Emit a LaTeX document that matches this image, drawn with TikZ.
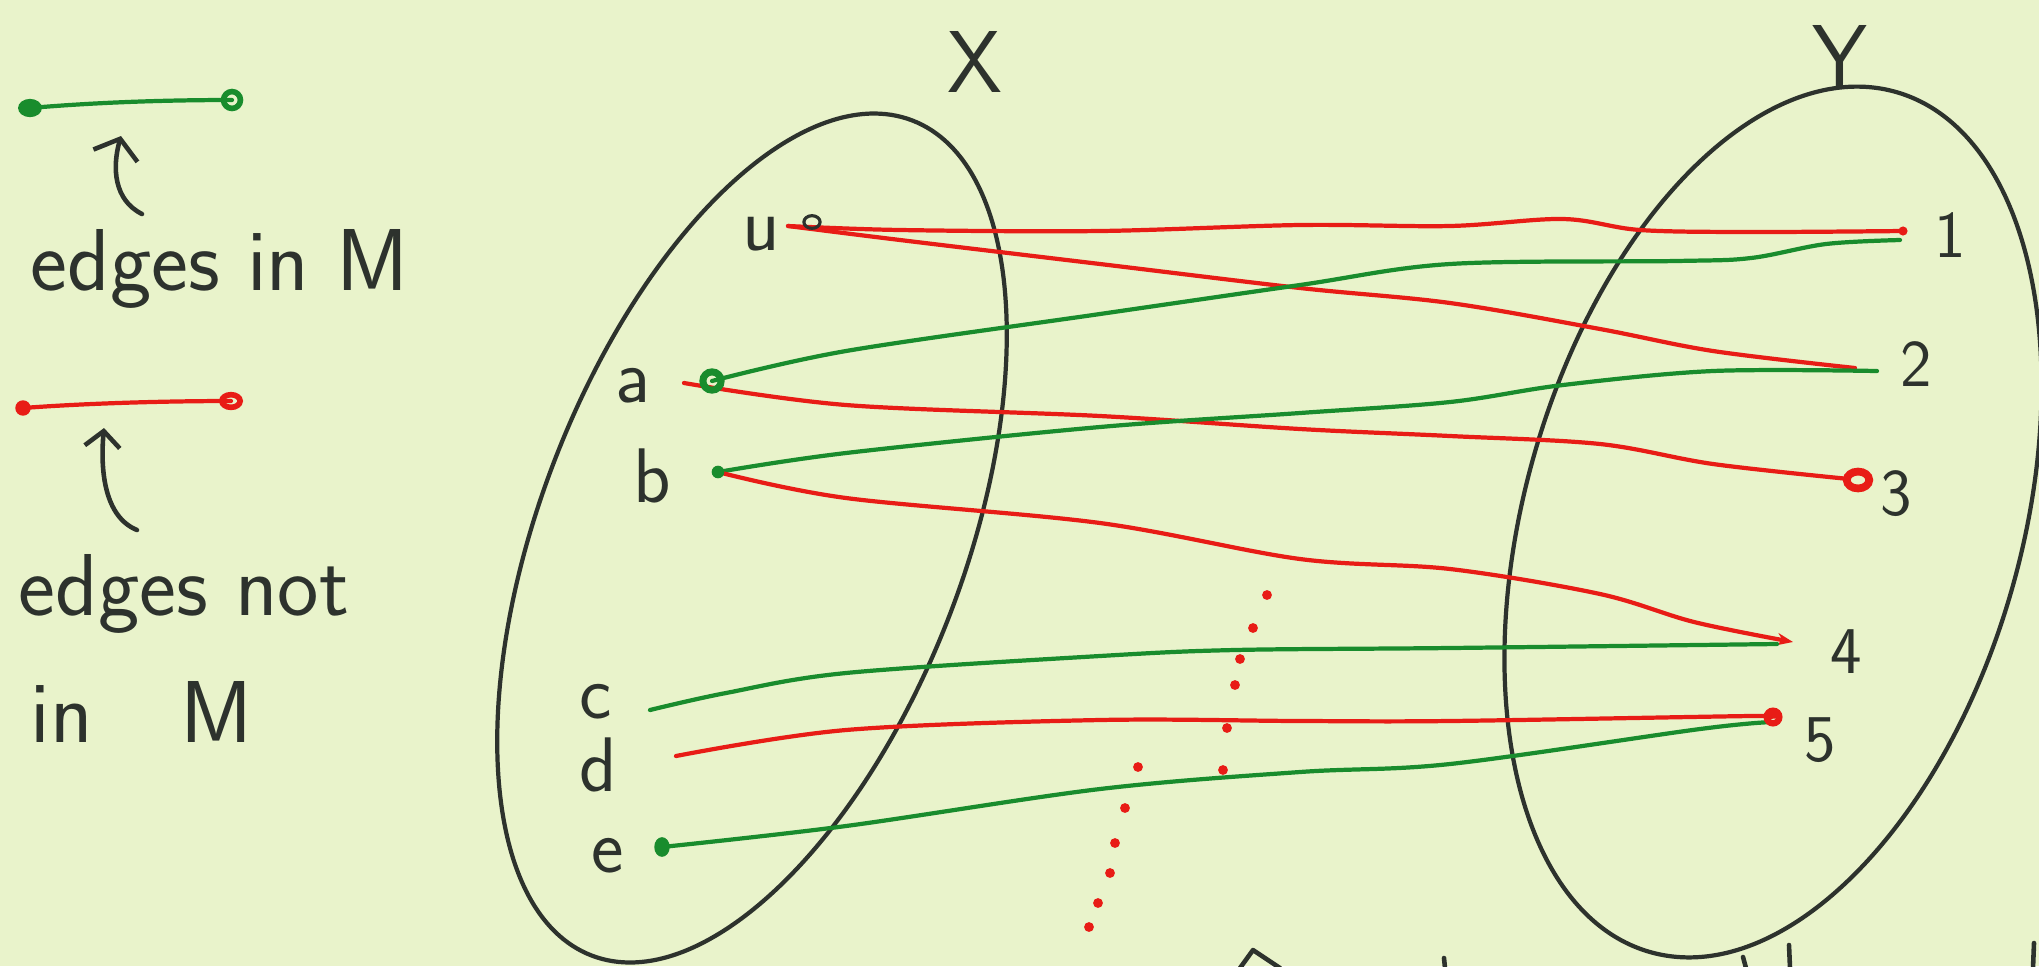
\documentclass[tikz,border=0pt]{standalone}
\usepackage{fontspec}
\usetikzlibrary{arrows.meta}
\definecolor{bgcol}{RGB}{233,243,203}
\definecolor{myred}{RGB}{232,28,22}
\definecolor{mygreen}{RGB}{25,140,45}
\definecolor{ink}{RGB}{45,50,45}
\begin{document}
\begin{tikzpicture}[x=0.01cm,y=-0.01cm,
  redge/.style={draw=myred,line width=1.2pt,line cap=round,line join=round},
  gedge/.style={draw=mygreen,line width=1.2pt,line cap=round,line join=round},
  setline/.style={draw=ink,line width=1.2pt},
  inkline/.style={draw=ink,line width=1.3pt,line cap=round,line join=round},
  lab/.style={text=ink,font=\sffamily\fontsize{22}{26}\selectfont,inner sep=0pt},
  numlab/.style={text=ink,font=\sffamily\fontsize{19}{23}\selectfont,inner sep=0pt},
  setlab/.style={text=ink,font=\sffamily\fontsize{25}{30}\selectfont,inner sep=0pt},
  legtext/.style={text=ink,font=\sffamily\fontsize{25}{30}\selectfont,inner sep=0pt,anchor=base west},
  cutdot/.style={fill=myred}
]
\fill[bgcol] (0,0) rectangle (2039,966);
\useasboundingbox (0,0) rectangle (2039,966);

% ---------- legend ----------
\coordinate (lg1) at (30,108);
\coordinate (lg2) at (232,100);
\draw[gedge] (lg1) .. controls (100,102) and (170,100) .. (lg2);
\fill[mygreen] (lg1) ellipse [x radius=3.4pt, y radius=2.6pt];
\draw[mygreen,line width=1.6pt] (lg2) circle (2.4pt);

\coordinate (lgtip) at (121,136);
\coordinate (lgbot) at (142,214);
\draw[inkline,-{Straight Barb[length=5pt,width=13pt]}] (lgbot) .. controls (114,200) and (112,168) .. (lgtip);
\node[legtext] (ltxt1) at (30,290) {edges in M};

\coordinate (lr1) at (23,408);
\coordinate (lr2) at (231,401);
\draw[redge] (lr1) .. controls (90,403) and (170,401) .. (lr2);
\fill[myred] (lr1) circle (2.2pt);
\draw[myred,line width=1.6pt] (lr2) ellipse [x radius=2.6pt, y radius=1.8pt];

\coordinate (lrtip) at (104,428);
\coordinate (lrbot) at (137,530);
\draw[inkline,-{Straight Barb[length=4.5pt,width=10pt]}] (lrbot) .. controls (105,517) and (100,472) .. (lrtip);
\node[legtext] (ltxt2) at (18,615) {edges not};
\node[legtext] (ltxt3) at (30,742) {in\hspace{1em}M};

% ---------- sets ----------
\draw[setline, rotate around={69:(752,538)}] (752,538) ellipse [x radius=4.47cm, y radius=2.12cm];
\draw[setline, rotate around={74:(1773,522)}] (1773,522) ellipse [x radius=4.47cm, y radius=2.48cm];
\node[setlab] (X) at (975,62) {X};
\node[setlab] (Y) at (1840,56) {Y};

% ---------- vertex labels ----------
\node[lab] (lu) at (761,234) {u};
\node[lab] (la) at (633,386) {a};
\node[lab] (lb) at (652,476) {b};
\node[lab] (lc) at (596,702) {c};
\node[lab] (ld) at (598,765) {d};
\node[lab] (le) at (608,856) {e};
\node[numlab] (l1) at (1950,235) {1};
\node[numlab] (l2) at (1916,364) {2};
\node[numlab] (l3) at (1896,494) {3};
\node[numlab] (l4) at (1846,652) {4};
\node[numlab] (l5) at (1820,740) {5};

% ---------- end points ----------
\coordinate (pu) at (788,226);
\coordinate (pa) at (712,381);
\coordinate (pa3) at (684,383);
\coordinate (pb) at (718,472);
\coordinate (pc) at (650,710);
\coordinate (pd) at (676,756);
\coordinate (pe) at (662,847);
\coordinate (p1r) at (1903,231);
\coordinate (p1g) at (1900,240);
\coordinate (p2r) at (1855,368);
\coordinate (p2g) at (1877,371);
\coordinate (p3) at (1849,479);
\coordinate (p4r) at (1793,642);
\coordinate (p4g) at (1777,644);
\coordinate (p5r) at (1766,717);
\coordinate (p5g) at (1772,722);

% ---------- edges ----------
\draw[redge] plot[smooth,tension=0.55] coordinates {(pu) (900,230) (1100,231) (1300,225) (1450,226) (1563,219) (1640,230) (1751,232) (p1r)};
\draw[redge] plot[smooth,tension=0.55] coordinates {(pu) (900,240) (1100,264) (1300,288) (1450,303) (1600,329) (1713,351) (p2r)};
\draw[gedge] plot[smooth,tension=0.55] coordinates {(pa) (846,351) (1100,314) (1300,285) (1450,264) (1676,261) (1751,258) (1826,244) (p1g)};
\draw[redge] plot[smooth,tension=0.55] coordinates {(pa3) (846,405) (1100,416) (1300,429) (1450,436) (1600,444) (1713,464) (p3)};
\draw[gedge] plot[smooth,tension=0.55] coordinates {(pb) (846,453) (1100,427) (1300,413) (1450,402) (1563,385) (1713,371) (p2g)};
\draw[redge,-{Stealth[length=4.5pt,width=3.5pt]}] plot[smooth,tension=0.55] coordinates {(pb) (846,498) (1100,523) (1300,559) (1450,569) (1600,594) (1694,622) (p4r)};
\draw[gedge] plot[smooth,tension=0.55] coordinates {(pc) (726,693) (846,673) (1100,656) (1235,650) (1450,648) (p4g)};
\draw[redge] plot[smooth,tension=0.55] coordinates {(pd) (846,730) (1100,720) (1300,721) (1450,721) (1751,716) (p5r)};
\draw[gedge] plot[smooth,tension=0.55] coordinates {(pe) (846,826) (1100,789) (1300,772) (1450,764) (1700,729) (p5g)};

% ---------- end marks ----------
\draw[ink,line width=0.9pt] (812,222) ellipse [x radius=2.3pt, y radius=1.8pt];
\draw[mygreen,line width=2pt] (pa) circle (2.6pt);
\fill[mygreen] (pb) circle (1.8pt);
\fill[mygreen] (pe) ellipse [x radius=2.2pt, y radius=2.8pt];
\fill[myred] (p1r) circle (1.3pt);
\draw[myred,line width=2.2pt] (1858,480) ellipse [x radius=3.2pt, y radius=2.4pt];
\draw[myred,line width=1.8pt] (1773,717) circle (1.8pt);

% ---------- dotted cut ----------
\foreach \p in {(1267,595),(1253,628),(1240,659),(1235,685),(1227,728),(1223,770),
                (1138,767),(1125,808),(1115,843),(1110,873),(1098,903),(1089,927)}
  \fill[cutdot] \p circle (1.4pt);

% ---------- cut-off text at the bottom edge ----------
\draw[inkline] (1240,968) -- (1253,950) -- (1280,968);
\draw[inkline] (1444,958) -- (1445,968);
\draw[inkline] (1743,957) -- (1746,968);
\draw[inkline] (1789,945) -- (1790,968);
\draw[inkline] (2034,943) -- (2033,968);
\end{tikzpicture}
\end{document}
